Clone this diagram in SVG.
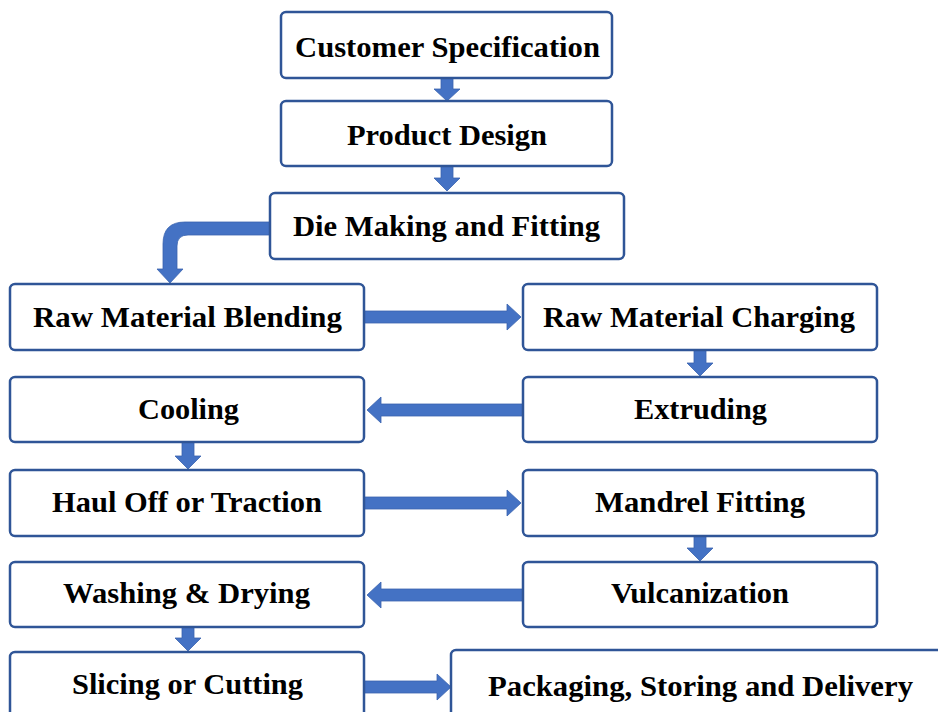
<svg xmlns="http://www.w3.org/2000/svg" width="938" height="712" viewBox="0 0 938 712">
<rect width="938" height="712" fill="#fff"/>
<g id="connectors" fill="#4472C4" stroke="#3A63AE" stroke-width="0.8">
<path d="M441,78 H453 V89 H460 L447,101 L434,89 H441 Z"/>
<path d="M441,166 H453 V178 H460 L447,191 L434,178 H441 Z"/>
<path d="M270,222 H185 Q163,222 163,244 V269 H157 L170,283 L183,269 H177 V246 Q177,235 188,235 H270 Z"/>
<path d="M364,311 H507 V304 L521,317 L507,330 V323 H364 Z"/>
<path d="M694,350 H706 V363 H713 L700,376 L687,363 H694 Z"/>
<path d="M523,404 H381 V397 L367,410 L381,423 V416 H523 Z"/>
<path d="M182,442 H194 V456 H201 L188,469 L175,456 H182 Z"/>
<path d="M364,497 H507 V490 L521,503 L507,516 V509 H364 Z"/>
<path d="M694,536 H706 V548 H713 L700,561 L687,548 H694 Z"/>
<path d="M523,589 H381 V582 L367,595 L381,608 V601 H523 Z"/>
<path d="M182,627 H194 V638 H201 L188,651 L175,638 H182 Z"/>
<path d="M364,681 H437 V674 L451,687 L437,700 V693 H364 Z"/>
</g>
<g font-size="29" font-weight="bold">
<g id="n1"><rect fill="#fff" stroke="#2F5597" stroke-width="2.5" x="281" y="12" width="331" height="66" rx="5"/><text font-family="'Liberation Serif'" x="295" y="57" textLength="305" lengthAdjust="spacingAndGlyphs">Customer Specification</text></g>
<g id="n2"><rect fill="#fff" stroke="#2F5597" stroke-width="2.5" x="281" y="101" width="331" height="65" rx="5"/><text font-family="'Liberation Serif'" x="347" y="145" textLength="200" lengthAdjust="spacingAndGlyphs">Product Design</text></g>
<g id="n3"><rect fill="#fff" stroke="#2F5597" stroke-width="2.5" x="270" y="193" width="354" height="66" rx="5"/><text font-family="'Liberation Serif'" x="293" y="236" textLength="307" lengthAdjust="spacingAndGlyphs">Die Making and Fitting</text></g>
<g id="n4"><rect fill="#fff" stroke="#2F5597" stroke-width="2.5" x="10" y="284" width="354" height="66" rx="5"/><text font-family="'Liberation Serif'" x="33" y="327" textLength="309" lengthAdjust="spacingAndGlyphs">Raw Material Blending</text></g>
<g id="n5"><rect fill="#fff" stroke="#2F5597" stroke-width="2.5" x="523" y="284" width="354" height="66" rx="5"/><text font-family="'Liberation Serif'" x="543" y="327" textLength="312" lengthAdjust="spacingAndGlyphs">Raw Material Charging</text></g>
<g id="n6"><rect fill="#fff" stroke="#2F5597" stroke-width="2.5" x="10" y="377" width="354" height="65" rx="5"/><text font-family="'Liberation Serif'" x="138" y="419" textLength="101" lengthAdjust="spacingAndGlyphs">Cooling</text></g>
<g id="n7"><rect fill="#fff" stroke="#2F5597" stroke-width="2.5" x="523" y="377" width="354" height="65" rx="5"/><text font-family="'Liberation Serif'" x="634" y="419" textLength="133" lengthAdjust="spacingAndGlyphs">Extruding</text></g>
<g id="n8"><rect fill="#fff" stroke="#2F5597" stroke-width="2.5" x="10" y="470" width="354" height="66" rx="5"/><text font-family="'Liberation Serif'" x="52" y="512" textLength="270" lengthAdjust="spacingAndGlyphs">Haul Off or Traction</text></g>
<g id="n9"><rect fill="#fff" stroke="#2F5597" stroke-width="2.5" x="523" y="470" width="354" height="66" rx="5"/><text font-family="'Liberation Serif'" x="595" y="512" textLength="210" lengthAdjust="spacingAndGlyphs">Mandrel Fitting</text></g>
<g id="n10"><rect fill="#fff" stroke="#2F5597" stroke-width="2.5" x="10" y="562" width="354" height="65" rx="5"/><text font-family="'Liberation Serif'" x="63" y="603" textLength="247" lengthAdjust="spacingAndGlyphs">Washing &amp; Drying</text></g>
<g id="n11"><rect fill="#fff" stroke="#2F5597" stroke-width="2.5" x="523" y="562" width="354" height="65" rx="5"/><text font-family="'Liberation Serif'" x="611" y="603" textLength="178" lengthAdjust="spacingAndGlyphs">Vulcanization</text></g>
<g id="n12"><rect fill="#fff" stroke="#2F5597" stroke-width="2.5" x="10" y="652" width="354" height="80" rx="5"/><text font-family="'Liberation Serif'" x="72" y="694" textLength="231" lengthAdjust="spacingAndGlyphs">Slicing or Cutting</text></g>
<g id="n13"><rect fill="#fff" stroke="#2F5597" stroke-width="2.5" x="451" y="650" width="500" height="80" rx="5"/><text font-family="'Liberation Serif'" x="488" y="696" textLength="425" lengthAdjust="spacingAndGlyphs">Packaging, Storing and Delivery</text></g>
</g>
</svg>
